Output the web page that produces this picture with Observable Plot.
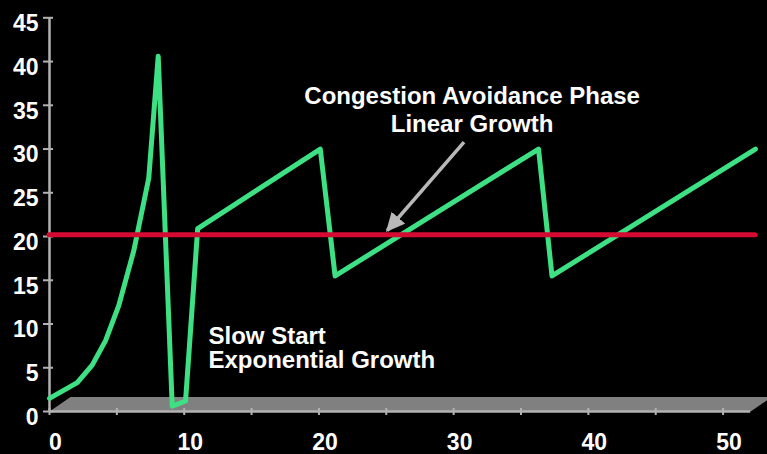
<!DOCTYPE html>
<html>
<head>
<meta charset="utf-8">
<script src="https://cdn.jsdelivr.net/npm/d3@7"></script>
<script src="https://cdn.jsdelivr.net/npm/@observablehq/plot@0.6"></script>
<style>
  html, body { margin: 0; padding: 0; background: #000; overflow: hidden; }
</style>
</head>
<body>
<div id="chart"></div>
<script>
// TCP congestion window (segments) against time (round trips)
const rtt  = [0,   2.06, 3.17, 4.16, 5.14, 6.26, 7.37, 8.07, 9.11, 10.1, 11.0, 20.1, 21.2, 36.3, 37.3, 52.4];
const cwnd = [1.5, 3.3,  5.3,  8.1,  12.1, 18.4, 26.7, 40.6, 0.6,  1.2,  20.9, 30.0, 15.5, 30.0, 15.5, 30.0];

// slow-start threshold
const threshold = 20.2;

// axis ticks and labels
const xTicks  = [0, 5, 10, 15, 20, 25, 30, 35, 40, 45, 50];
const xLabels = [0, 10, 20, 30, 40, 50];
const yTicks  = [0, 5, 10, 15, 20, 25, 30, 35, 40, 45];

// annotations
const notes = [
  {text: "Congestion Avoidance Phase\nLinear Growth", x: 31.37, y: 37.3, anchor: "middle", lh: 1.13},
  {text: "Slow Start\nExponential Growth", x: 11.8, y: 9.75, anchor: "start", lh: 1.03}
];
const pointer = [{x1: 30.77, y1: 30.78, x2: 25.07, y2: 20.69}];

// floor of the plot area, drawn as a slanted slab
const floorEnd = 52.05, depthX = 1.56, depthY = 1.66;
const floor = [
  {x: 0, y: 0}, {x: floorEnd, y: 0},
  {x: floorEnd + depthX, y: depthY}, {x: depthX, y: depthY}
];

const green = "#3ee084", red = "#d40a33", axisGray = "#b2b2b2";

// filled triangular arrowhead
function filledHead(color) {
  const m = d3.create("svg:marker")
    .attr("viewBox", "-17 -9 19 18")
    .attr("markerWidth", 19)
    .attr("markerHeight", 18)
    .attr("markerUnits", "userSpaceOnUse")
    .attr("orient", "auto")
    .attr("refX", 0)
    .attr("refY", 0)
    .attr("fill", color)
    .attr("stroke", "none");
  m.append("path").attr("d", "M-17,-9L2,0L-17,9Z");
  return m.node();
}

const chart = Plot.plot({
  width: 767,
  height: 454,
  marginLeft: 49,
  marginRight: 4,
  marginTop: 17.3,
  marginBottom: 43,
  x: {domain: [0, 53], label: null},
  y: {domain: [0, 45], label: null},
  style: {
    background: "#000",
    color: "#fff",
    fontFamily: "'Liberation Sans', Arial, sans-serif",
    fontWeight: "bold",
    overflow: "visible"
  },
  marks: [
    // floor slab
    Plot.line(floor, {x: "x", y: "y", curve: "linear-closed", fill: "#808080", stroke: "none"}),
    // axis lines
    Plot.ruleY([0], {x1: 0, x2: floorEnd, stroke: axisGray, strokeWidth: 2.5}),
    Plot.ruleX([0], {y1: 0, y2: 45, stroke: axisGray, strokeWidth: 2.5}),
    // tick marks
    Plot.ruleX(xTicks, {x: d => d, y1: 0, y2: 0, insetTop: -3, insetBottom: -4, stroke: axisGray, strokeWidth: 2}),
    Plot.ruleY(yTicks, {y: d => d, x1: 0, x2: 0, insetLeft: -6, insetRight: -4, stroke: axisGray, strokeWidth: 2}),
    // congestion window
    Plot.line(rtt, {
      x: rtt, y: cwnd,
      stroke: green, strokeWidth: 5, strokeLinejoin: "round", strokeLinecap: "round"
    }),
    // threshold
    Plot.ruleY([threshold], {x1: 0, x2: 52.4, stroke: red, strokeWidth: 5, strokeLinecap: "round"}),
    // pointer to the linear phase
    Plot.link(pointer, {
      x1: "x1", y1: "y1", x2: "x2", y2: "y2",
      stroke: "#b8b8b8", strokeWidth: 3.5, markerEnd: filledHead
    }),
    // annotations
    Plot.text(notes.slice(0, 1), {
      x: "x", y: "y", text: "text", textAnchor: "middle", lineAnchor: "top",
      lineHeight: notes[0].lh, fill: "#fff", fontSize: 24, fontWeight: "bold"
    }),
    Plot.text(notes.slice(1), {
      x: "x", y: "y", text: "text", textAnchor: "start", lineAnchor: "top",
      lineHeight: notes[1].lh, fill: "#fff", fontSize: 24, fontWeight: "bold"
    }),
    // tick labels
    Plot.axisX({ticks: xLabels, tickSize: 0, tickPadding: 22, dx: 6, fontSize: 23, fontWeight: "bold", fill: "#fff"}),
    Plot.axisY({ticks: yTicks, tickSize: 0, tickPadding: 11, dy: 6, fontSize: 23, fontWeight: "bold", fill: "#fff"})
  ]
});

document.getElementById("chart").appendChild(chart);
</script>
</body>
</html>
